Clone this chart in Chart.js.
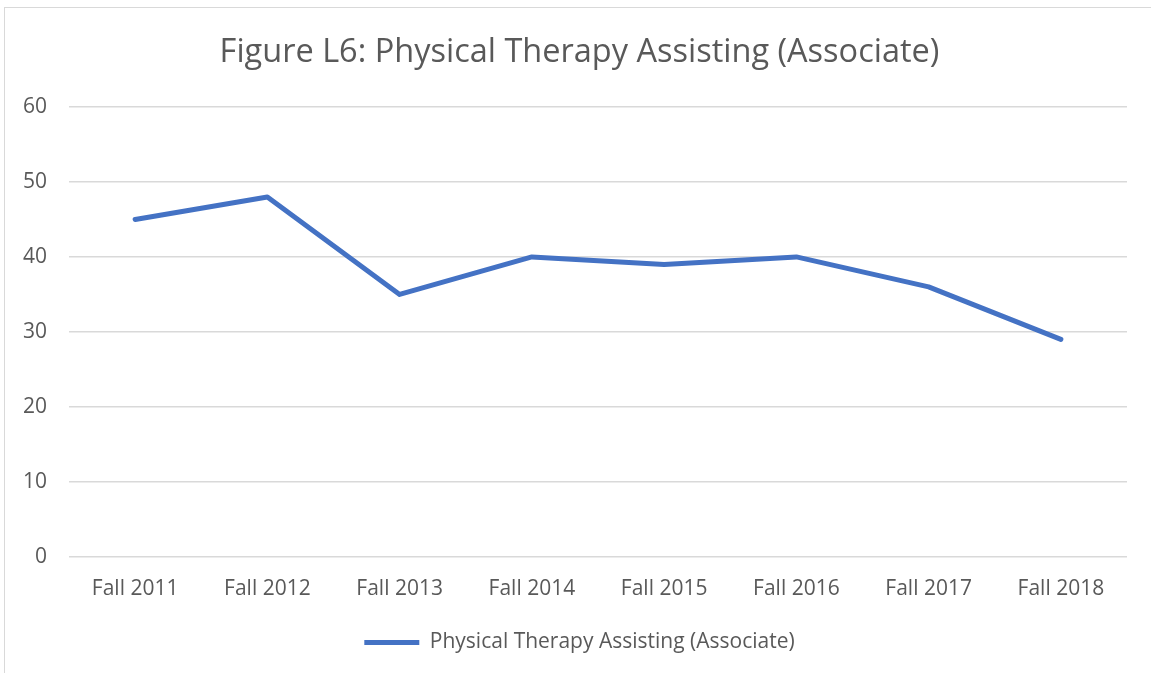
<!DOCTYPE html>
<html>
<head>
<meta charset="utf-8">
<script src="https://cdn.jsdelivr.net/npm/chart.js@4/dist/chart.umd.min.js"></script>
<style>
  html, body { margin: 0; padding: 0; background: #fff; }
  #frame {
    position: absolute; left: 4px; top: 7px;
    width: 1147px; height: 666px;
    border-top: 1px solid #d9d9d9; border-left: 1px solid #d9d9d9;
    box-sizing: border-box;
  }
  canvas { display: block; }
</style>
</head>
<body>
<div id="frame"><canvas id="chart" width="1146" height="665"></canvas></div>
<script>
// valeurs
const categories = ['Fall 2011', 'Fall 2012', 'Fall 2013', 'Fall 2014', 'Fall 2015', 'Fall 2016', 'Fall 2017', 'Fall 2018'];
const enrollment = [45, 48, 35, 40, 39, 40, 36, 29];
const yTicks = [0, 10, 20, 30, 40, 50, 60];

const seriesName = 'Physical Therapy Assisting (Associate)';
const titleText = 'Figure L6: Physical Therapy Assisting (Associate)';
const textColor = '#595959';
const gridColor = '#d9d9d9';
const lineColor = '#4472C4';
const labelFont = { family: 'Open Sans', size: 21 };

const ctx = document.getElementById('chart');

new Chart(ctx, {
    type: 'line',
    data: {
        labels: categories,
        datasets: [{
            label: seriesName,
            data: enrollment,
            borderColor: lineColor,
            backgroundColor: lineColor,
            borderWidth: 5,
            borderCapStyle: 'round',
            borderJoinStyle: 'round',
            pointRadius: 0,
            tension: 0
        }]
    },
    options: {
        responsive: false,
        animation: false,
        layout: { padding: { left: 3, right: 0, top: 25, bottom: 10 } },
        plugins: {
            title: {
                display: true,
                text: titleText,
                color: textColor,
                font: { family: 'Open Sans', size: 32.5, weight: 'normal' },
                padding: { top: 0, bottom: 35 }
            },
            legend: {
                position: 'bottom',
                labels: {
                    usePointStyle: true,
                    pointStyle: 'line',
                    pointStyleWidth: 55,
                    color: textColor,
                    font: labelFont,
                    padding: 10
                }
            },
            tooltip: { enabled: false }
        },
        scales: {
            x: {
                offset: true,
                grid: { display: false, drawTicks: false },
                border: { display: false },
                ticks: {
                    color: textColor,
                    font: labelFont,
                    padding: 20,
                    maxRotation: 0
                }
            },
            y: {
                min: 0,
                max: 60,
                afterBuildTicks: (axis) => { axis.ticks = yTicks.map(v => ({ value: v })); },
                afterFit: (axis) => { axis.width = 61; },
                grid: { color: gridColor, lineWidth: 1.5, drawTicks: false },
                border: { display: false },
                ticks: {
                    color: textColor,
                    font: labelFont,
                    padding: 22
                }
            },
            // axe vide à droite, juste pour la marge
            yRight: {
                position: 'right',
                min: 0,
                max: 60,
                afterFit: (axis) => { axis.width = 24; },
                grid: { display: false },
                border: { display: false },
                ticks: { display: false }
            }
        }
    }
});
</script>
</body>
</html>
